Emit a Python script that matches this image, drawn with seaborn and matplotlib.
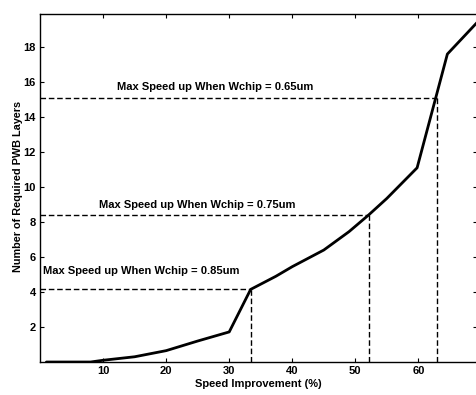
import numpy as np
import pandas as pd
import seaborn as sns
import matplotlib.pyplot as plt

# curve
speed = [1, 8, 10, 15, 20, 25, 30, 33.4, 37.4, 40, 45, 49, 52.1, 55, 59.8, 62.8, 64.6, 69.3]
layers = [0, 0, 0.1, 0.3, 0.65, 1.2, 1.72, 4.15, 4.9, 5.45, 6.4, 7.45, 8.4, 9.35, 11.1, 15.16, 17.6, 19.4]

# max speed-up markers for each chip width
wchip = ['0.65um', '0.75um', '0.85um']
max_speed = [63.0, 52.2, 33.4]
max_layers = [15.1, 8.4, 4.15]
label_x = [12.2, 9.3, 0.4]
label_y = [15.7, 9.0, 5.2]

xticks = [10, 20, 30, 40, 50, 60]
yticks = [2, 4, 6, 8, 10, 12, 14, 16, 18]

sns.set_theme(style="ticks")
plt.rcParams['font.family'] = ['Liberation Sans', 'DejaVu Sans']
plt.rcParams['xtick.direction'] = 'in'
plt.rcParams['ytick.direction'] = 'in'
plt.rcParams['text.color'] = 'black'
plt.rcParams['axes.labelcolor'] = 'black'
plt.rcParams['xtick.color'] = 'black'
plt.rcParams['ytick.color'] = 'black'

fig = plt.figure(figsize=(4.77, 3.95), dpi=100)
ax = fig.add_axes([0.084, 0.0835, 0.916, 0.8815])

df = pd.DataFrame({'speed': speed, 'layers': layers})
sns.lineplot(data=df, x='speed', y='layers', color='black', linewidth=2, ax=ax,
             estimator=None, sort=False)

# dashed guide lines
ax.hlines(max_layers, 0, max_speed, colors='black', linestyles=(0, (4, 2)), linewidth=1)
ax.vlines(max_speed, 0, max_layers, colors='black', linestyles=(0, (4, 2)), linewidth=1)

for w, tx, ty in zip(wchip, label_x, label_y):
    ax.text(tx, ty, 'Max Speed up When Wchip = ' + w, fontsize=8, fontweight='bold',
            va='center', ha='left')

ax.set_xlim(0, 69.3)
ax.set_ylim(0, 19.9)
ax.set_xticks(xticks)
ax.set_yticks(yticks)
ax.tick_params(labelsize=8, length=3, width=0.8, top=True, right=True, pad=3)
for t in ax.get_xticklabels() + ax.get_yticklabels():
    t.set_fontweight('bold')
for s in ax.spines.values():
    s.set_visible(True)
    s.set_linewidth(1)
    s.set_color('black')

ax.set_xlabel('Speed Improvement (%)', fontsize=8, fontweight='bold', labelpad=2)
ax.set_ylabel('Number of Required PWB Layers', fontsize=7.8, fontweight='bold')
ax.yaxis.set_label_coords(-0.04, 0.503)

fig.savefig('out.png', dpi=100)
